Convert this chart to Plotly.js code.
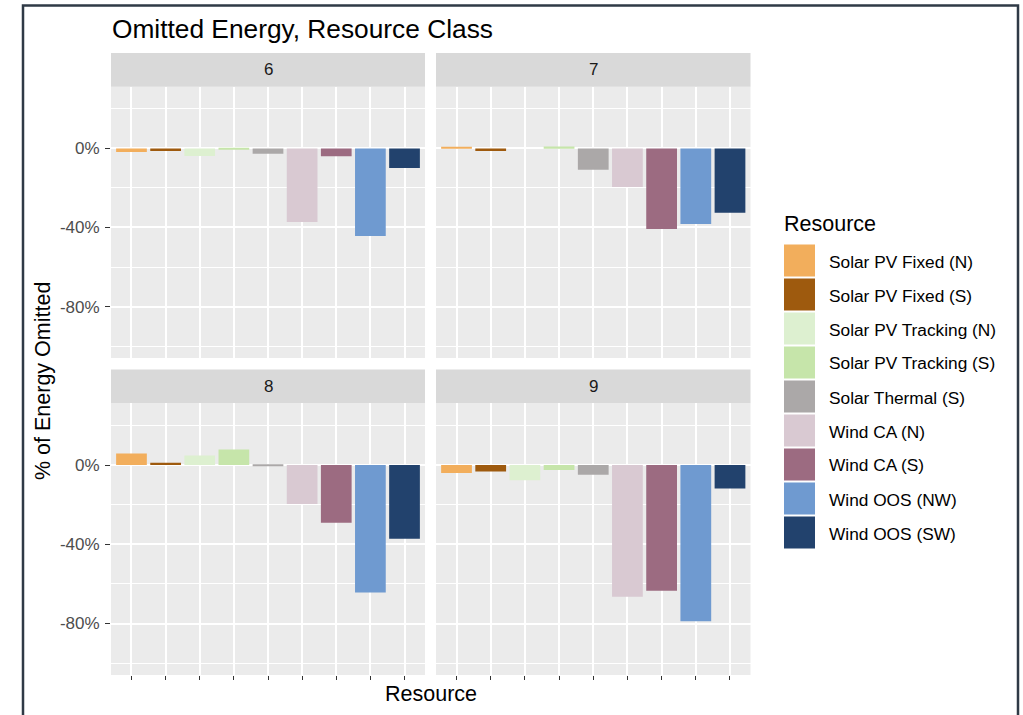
<!DOCTYPE html>
<html>
<head>
<meta charset="utf-8">
<script src="https://cdn.plot.ly/plotly-3.0.1.min.js"></script>
<style>html,body{margin:0;padding:0;background:#fff;}#chart{width:1023px;height:715px;}</style>
</head>
<body>
<div id="chart"></div>
<script>
// ---- data ----
const categories = ['Solar PV Fixed (N)','Solar PV Fixed (S)','Solar PV Tracking (N)','Solar PV Tracking (S)','Solar Thermal (S)','Wind CA (N)','Wind CA (S)','Wind OOS (NW)','Wind OOS (SW)'];
const colors = ['#F2AE5C','#9E5A0E','#DDF0D0','#C6E5AA','#ABA8A8','#D9C9D2','#9C6B81','#6F9AD0','#22426D'];
const panelLabels = ['6','7','8','9'];
const values6 = [-1.8,-1.3,-3.9,-0.5,-2.7,-37.2,-4.0,-44.3,-9.9];
const values7 = [0.8,-1.3,0.0,1.0,-10.8,-19.5,-40.7,-38.2,-32.5];
const values8 = [5.9,1.2,4.8,7.9,-0.3,-19.7,-29.1,-64.3,-37.2];
const values9 = [-4.0,-3.2,-7.7,-2.5,-4.9,-66.5,-63.5,-78.8,-11.8];
const yTickVals = [-80,-40,0,40];
const yTickText = ['-80%','-40%','0%','40%'];
const yMinorVals = [-100,-60,-20,20];

// ---- geometry helpers (pixel -> paper) ----
const W = 1023, H = 715;
const px = v => v / W;
const py = v => 1 - v / H;
const FONT = 'Liberation Sans, Arial, sans-serif';

const colX = [[111, 425], [436, 750.5]];
const rowY = [[86.7, 358], [403.3, 675]]; // plot area top/bottom
const stripH = 33.7;

const allValues = [values6, values7, values8, values9];
const traces = [];
const layout = {
  width: W, height: H,
  margin: {l: 0, r: 0, t: 0, b: 0},
  paper_bgcolor: '#FFFFFF',
  plot_bgcolor: '#EBEBEB',
  showlegend: false,
  bargap: 0.1,
  font: {family: FONT, color: '#4D4D4D'},
  shapes: [],
  annotations: []
};

allValues.forEach((vals, i) => {
  const r = Math.floor(i / 2), c = i % 2;
  const sfx = i === 0 ? '' : String(i + 1);
  traces.push({
    type: 'bar',
    x: categories,
    y: vals,
    xaxis: 'x' + sfx,
    yaxis: 'y' + sfx,
    marker: {color: colors, line: {width: 0}},
    hoverinfo: 'x+y'
  });
  const bottom = r === 1, left = c === 0;
  layout['xaxis' + sfx] = {
    domain: [px(colX[c][0]), px(colX[c][1])],
    anchor: 'y' + sfx,
    type: 'category',
    categoryorder: 'array', categoryarray: categories,
    range: [-0.6, 8.6],
    showgrid: true, gridcolor: '#FFFFFF', gridwidth: 1.8,
    zeroline: false, showline: false,
    ticks: bottom ? 'outside' : '', ticklen: 4, tickwidth: 1.2, tickcolor: '#333333',
    showticklabels: false,
    fixedrange: true
  };
  layout['yaxis' + sfx] = {
    domain: [py(rowY[r][1]), py(rowY[r][0])],
    anchor: 'x' + sfx,
    range: [-106, 31.2],
    tickmode: 'array', tickvals: yTickVals, ticktext: yTickText,
    showgrid: true, gridcolor: '#FFFFFF', gridwidth: 1.8,
    minor: {tickmode: 'array', tickvals: yMinorVals, showgrid: true, gridcolor: '#FFFFFF', gridwidth: 0.9, ticks: ''},
    zeroline: false, showline: false,
    ticks: left ? 'outside' : '', ticklen: 5, tickwidth: 1.2, tickcolor: '#333333',
    ticklabelstandoff: 2,
    showticklabels: left,
    tickfont: {family: FONT, size: 17, color: '#4D4D4D'},
    fixedrange: true
  };
  // strip
  layout.shapes.push({
    type: 'rect', xref: 'paper', yref: 'paper', layer: 'below',
    x0: px(colX[c][0]), x1: px(colX[c][1]),
    y0: py(rowY[r][0]), y1: py(rowY[r][0] - stripH),
    fillcolor: '#D9D9D9', line: {width: 0}
  });
  layout.annotations.push({
    xref: 'paper', yref: 'paper', showarrow: false,
    x: px((colX[c][0] + colX[c][1]) / 2), y: py(rowY[r][0] - stripH / 2),
    xanchor: 'center', yanchor: 'middle',
    text: panelLabels[i],
    font: {family: FONT, size: 17, color: '#1A1A1A'}
  });
});

// title
layout.annotations.push({
  xref: 'paper', yref: 'paper', showarrow: false,
  x: px(110), y: py(29), xanchor: 'left', yanchor: 'middle',
  text: 'Omitted Energy, Resource Class',
  font: {family: FONT, size: 26.3, color: '#000000'}
});
// axis titles
layout.annotations.push({
  xref: 'paper', yref: 'paper', showarrow: false,
  x: px(430.5), y: py(694), xanchor: 'center', yanchor: 'middle',
  text: 'Resource',
  font: {family: FONT, size: 21.5, color: '#000000'}
});
layout.annotations.push({
  xref: 'paper', yref: 'paper', showarrow: false,
  x: px(43), y: py(381), xanchor: 'center', yanchor: 'middle',
  textangle: -90,
  text: '% of Energy Omitted',
  font: {family: FONT, size: 21.5, color: '#000000'}
});
// legend (drawn manually for ggplot-style large keys)
layout.annotations.push({
  xref: 'paper', yref: 'paper', showarrow: false,
  x: px(782), y: py(224), xanchor: 'left', yanchor: 'middle',
  text: 'Resource',
  font: {family: FONT, size: 21.5, color: '#000000'}
});
categories.forEach((name, k) => {
  const cy = 260.5 + k * 34;
  layout.shapes.push({
    type: 'rect', xref: 'paper', yref: 'paper',
    x0: px(784), x1: px(815), y0: py(cy + 16), y1: py(cy - 16),
    fillcolor: colors[k], line: {width: 0}
  });
  layout.annotations.push({
    xref: 'paper', yref: 'paper', showarrow: false,
    x: px(827), y: py(cy + 1), xanchor: 'left', yanchor: 'middle',
    text: name,
    font: {family: FONT, size: 17.3, color: '#000000'}
  });
});
// outer frame
layout.shapes.push({
  type: 'path', xref: 'paper', yref: 'paper',
  path: `M ${px(23)} ${py(730)} L ${px(23)} ${py(5.5)} L ${px(1018)} ${py(5.5)} L ${px(1018)} ${py(730)}`,
  line: {color: '#2F3A46', width: 2.5}
});

Plotly.newPlot('chart', traces, layout, {displayModeBar: false, staticPlot: false});
</script>
</body>
</html>
